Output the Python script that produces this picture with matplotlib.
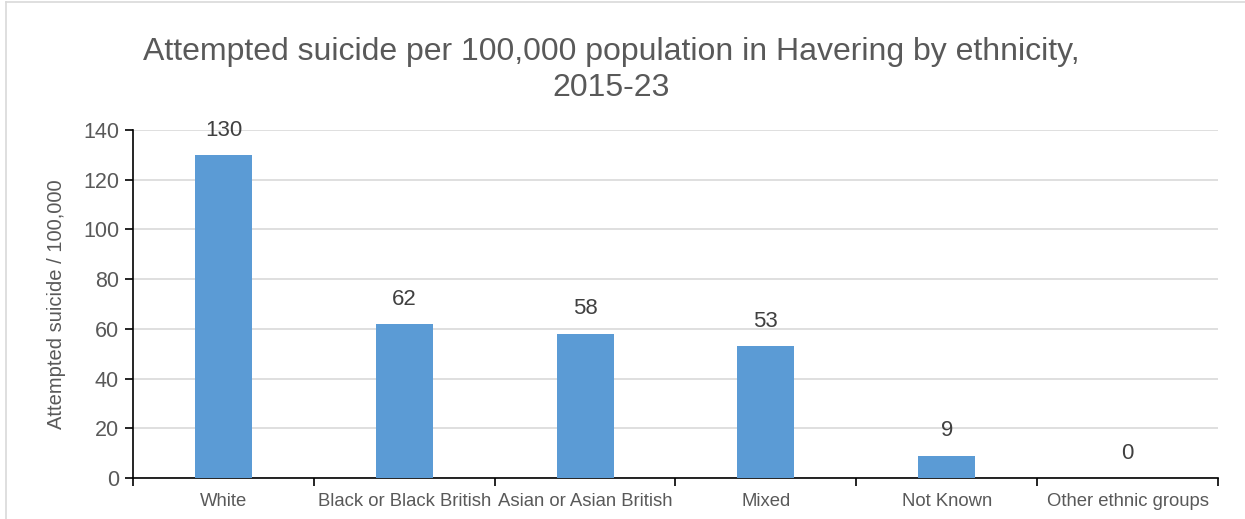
import numpy as np
import matplotlib.pyplot as plt
from matplotlib.lines import Line2D

categories = ["White", "Black or Black British", "Asian or Asian British",
              "Mixed", "Not Known", "Other ethnic groups"]
rates = [130, 62, 58, 53, 9, 0]

plt.rcParams['font.family'] = ['Liberation Sans', 'DejaVu Sans']
grey = '#595959'

fig = plt.figure(figsize=(12.45, 5.19), dpi=100)
ax = fig.add_axes([133 / 1245, 1 - 478 / 519, (1218 - 133) / 1245, (478 - 130) / 519])

x = np.arange(len(categories))
bars = ax.bar(x, rates, width=0.315, color='#5B9BD5', zorder=3)
for xi, v in zip(x, rates):
    ax.text(xi, v + 10, str(v), ha='center', va='center', fontsize=16, color='#404040')

ax.set_xlim(-0.5, len(categories) - 0.5)
ax.set_ylim(0, 140)
ax.set_yticks(np.arange(0, 141, 20))
ax.yaxis.grid(True, color='#D9D9D9', linewidth=1.2, zorder=0)

ax.set_xticks(x)
ax.set_xticklabels(categories, fontsize=13.3, color=grey)
ax.tick_params(axis='x', which='major', length=0, pad=11)
ax.set_xticks(np.arange(-0.5, len(categories)), minor=True)
ax.tick_params(axis='x', which='minor', length=6, width=1.2, direction='out')
ax.tick_params(axis='y', labelsize=15.5, labelcolor=grey, length=6, width=1.2, pad=4)

for s in ['top', 'right']:
    ax.spines[s].set_visible(False)
for s in ['left', 'bottom']:
    ax.spines[s].set_linewidth(1.2)
    ax.spines[s].set_color('black')

ax.set_ylabel('Attempted suicide / 100,000', fontsize=14.5, color=grey, labelpad=12)

fig.text(611 / 1245, 1 - 70 / 519, 'Attempted suicide per 100,000 population in Havering by ethnicity,\n2015-23',
         ha='center', va='center', fontsize=23, color=grey, linespacing=1.3)

# outer chart border
fig.add_artist(Line2D([6 / 1245, 6 / 1245], [0, 1 - 2 / 519], transform=fig.transFigure, color='#D9D9D9', lw=1.2))
fig.add_artist(Line2D([6 / 1245, 1], [1 - 2 / 519, 1 - 2 / 519], transform=fig.transFigure, color='#D9D9D9', lw=1.2))

fig.savefig('out.png', dpi=100)
